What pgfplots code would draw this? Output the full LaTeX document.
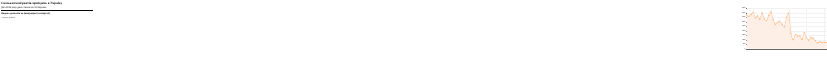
\documentclass[border=0pt]{standalone}
\usepackage{pgfplots}
\pgfplotsset{compat=1.18}
\usepackage{fontspec}
\setmainfont{Liberation Sans}
\newfontfamily\serifb{Liberation Serif}
\newfontfamily\djfont{DejaVu Sans}
\definecolor{linec}{HTML}{FDBE8C}
\definecolor{fillc}{HTML}{FDEFE5}
\begin{document}
\begin{tikzpicture}[x=1pt,y=1pt]
\path (0,0) rectangle (827,-601);
\node[anchor=west,font=\serifb\bfseries\fontsize{29}{32}\selectfont] at (8,-29) {Скільки іммігрантів приїздить в Україну};
\node[anchor=west,font=\fontsize{21}{24}\selectfont] at (8,-70) {Для 2026 року дані станом на 31 березня};
\draw[line width=0.8] (8,-92) -- (827,-92);
\node[anchor=west,font=\bfseries\fontsize{20}{23}\selectfont] at (8,-126) {Видано дозволів на імміграцію (за квартал)};
\node[anchor=west,font=\fontsize{13}{15}\selectfont] at (8,-163) {{\djfont\fontsize{12}{14}\selectfont ↑} Кількість дозволів};
\begin{axis}[at={(84,-544)},anchor=south west,scale only axis,
 width=715pt,height=360pt,
 xmin=2017.25,xmax=2026.25,ymin=0,ymax=4500,
 axis line style={draw=none},
 xtick={2018,2020,2022,2024,2026},
 xticklabels={2018,2020,2022,2024,2026},
 ytick={0,500,...,4500},
 grid=major,grid style={draw=black!5,line width=0.8},
 tick style={draw=black!60},
 major tick length=6pt,
 tick align=outside,
 xtick pos=bottom,ytick pos=left,
 tick label style={font=\fontsize{13}{15}\selectfont},
 /pgf/number format/assume math mode=true,
 /pgf/number format/1000 sep={},
 clip=false]
\addplot[draw=none,fill=fillc,smooth,tension=0.5] coordinates {
(2017.25,3775)(2017.5,3610)(2017.75,3810)(2018,4040)(2018.25,3440)(2018.5,3675)(2018.75,3300)(2019,4000)(2019.25,3310)(2019.5,3125)(2019.75,3725)(2020,4100)(2020.25,3260)(2020.5,2725)(2020.75,2960)(2021,3060)(2021.25,2725)(2021.5,2450)(2021.75,3475)(2022,3960)(2022.25,1725)(2022.5,1000)(2022.75,1600)(2023,1425)(2023.25,1410)(2023.5,1025)(2023.75,1790)(2024,1210)(2024.25,950)(2024.5,1275)(2024.75,1160)(2025,875)(2025.25,640)(2025.5,775)(2025.75,725)(2026,725)(2026.25,675)
} \closedcycle;
\draw[black!60,line width=0.8] (axis cs:2017.25,0) -- (axis cs:2026.25,0);
\addplot[linec,line width=3pt,smooth,tension=0.5,mark=*,mark size=4.5pt,mark options={fill=linec,draw=none}] coordinates {
(2017.25,3775)(2017.5,3610)(2017.75,3810)(2018,4040)(2018.25,3440)(2018.5,3675)(2018.75,3300)(2019,4000)(2019.25,3310)(2019.5,3125)(2019.75,3725)(2020,4100)(2020.25,3260)(2020.5,2725)(2020.75,2960)(2021,3060)(2021.25,2725)(2021.5,2450)(2021.75,3475)(2022,3960)(2022.25,1725)(2022.5,1000)(2022.75,1600)(2023,1425)(2023.25,1410)(2023.5,1025)(2023.75,1790)(2024,1210)(2024.25,950)(2024.5,1275)(2024.75,1160)(2025,875)(2025.25,640)(2025.5,775)(2025.75,725)(2026,725)(2026.25,675)
};
\end{axis}
\end{tikzpicture}
\end{document}
